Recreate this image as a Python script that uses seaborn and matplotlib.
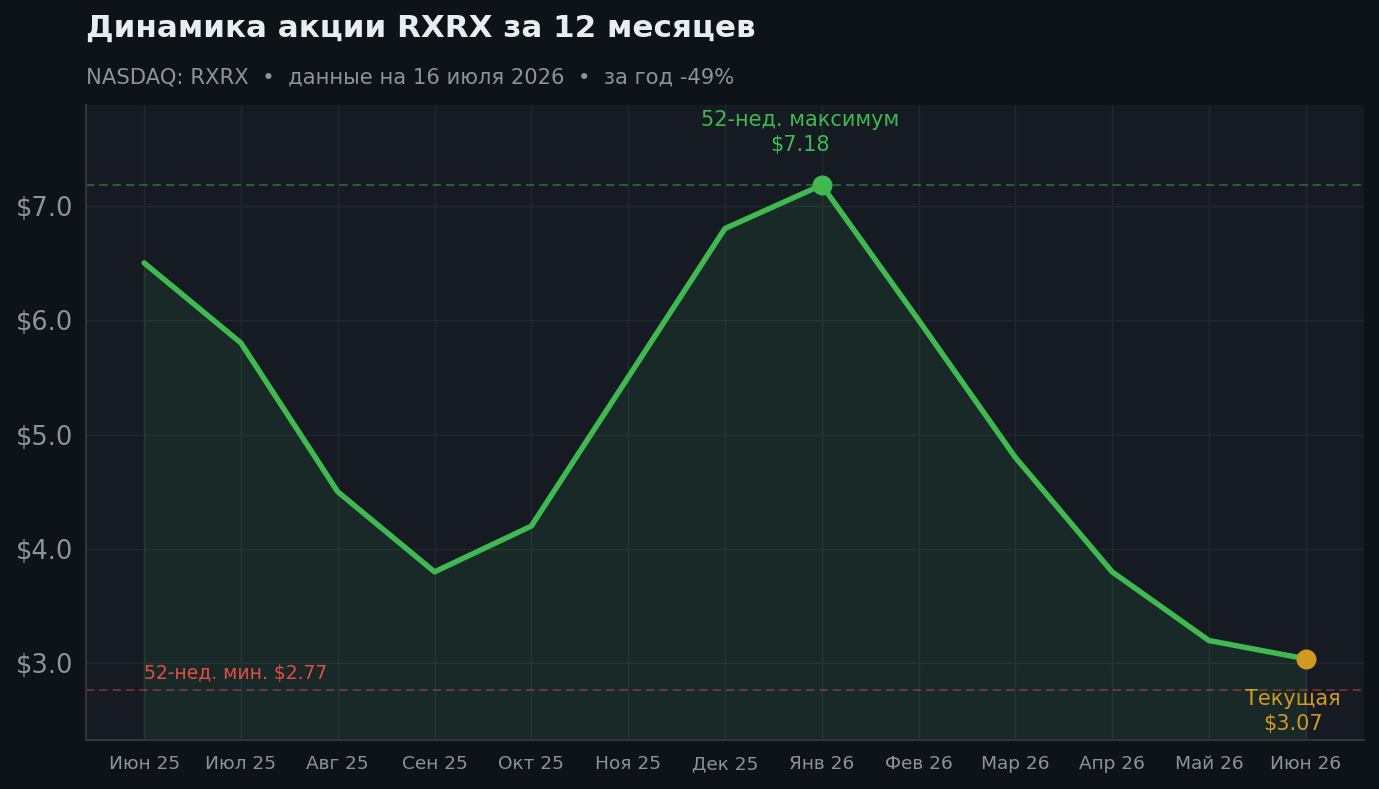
import matplotlib
matplotlib.use("Agg")
import matplotlib.pyplot as plt
import seaborn as sns
import pandas as pd

months = ["Июн 25", "Июл 25", "Авг 25", "Сен 25", "Окт 25", "Ноя 25", "Дек 25",
          "Янв 26", "Фев 26", "Мар 26", "Апр 26", "Май 26", "Июн 26"]
prices = [6.5, 5.8, 4.5, 3.8, 4.2, 5.5, 6.8, 7.18, 6.0, 4.8, 3.8, 3.2, 3.04]
high_52w = 7.18
low_52w = 2.77
current_label = 3.07
yticks = [3.0, 4.0, 5.0, 6.0, 7.0]

BG = "#0e1317"
AX_BG = "#161b23"
GREEN = "#3fb950"
ORANGE = "#d29922"
RED = "#f85149"
GRID = "#242a32"
MUTED = "#8b949e"

sns.set_theme(style="dark")
plt.rcParams["font.family"] = ["DejaVu Sans"]

df = pd.DataFrame({"x": range(len(months)), "price": prices})

fig = plt.figure(figsize=(13.79, 7.89), dpi=100, facecolor=BG)
ax = fig.add_axes([0.0624, 0.062, 0.9266, 0.805])
ax.set_facecolor(AX_BG)

ymin, ymax = 2.33, 7.88
ax.fill_between(df["x"], df["price"], ymin, color=GREEN, alpha=0.09, linewidth=1.2,
                edgecolor=(0.25, 0.72, 0.31, 0.15), zorder=1)
sns.lineplot(data=df, x="x", y="price", ax=ax, color=GREEN, linewidth=3.9, zorder=3)

ax.axhline(high_52w, color=GREEN, linestyle=(0, (5, 3)), linewidth=1.2, alpha=0.5, zorder=2)
ax.axhline(low_52w, color=RED, linestyle=(0, (5, 3)), linewidth=1.2, alpha=0.45, zorder=2)

imax = prices.index(max(prices))
ax.scatter([imax], [prices[imax]], s=180, color=GREEN, zorder=4)
ax.scatter([len(prices) - 1], [prices[-1]], s=180, color=ORANGE, zorder=4)

ax.text(imax - 0.22, high_52w + 0.46, f"52-нед. максимум\n${high_52w:.2f}", color=GREEN,
        fontsize=15, ha="center", va="center", linespacing=1.35)
ax.text(0, low_52w + 0.06, f"52-нед. мин. ${low_52w:.2f}", color=RED, fontsize=13.5,
        ha="left", va="bottom", alpha=0.9)
ax.text(len(prices) - 1 - 0.13, low_52w - 0.19, f"Текущая\n${current_label:.2f}", color=ORANGE,
        fontsize=15, ha="center", va="center", linespacing=1.35)

ax.set_xlim(-0.6, len(months) - 1 + 0.6)
ax.set_ylim(ymin, ymax)
ax.set_xticks(range(len(months)))
ax.set_xticklabels(months)
ax.set_yticks(yticks)
ax.set_yticklabels([f"${v:.1f}" for v in yticks])
ax.tick_params(axis="x", labelsize=13.3, length=5, width=1, pad=6)
ax.tick_params(axis="y", labelsize=18.5, length=5, width=1, pad=4)
ax.tick_params(axis="both", colors="#30363d", labelcolor=MUTED)
ax.set_xlabel("")
ax.set_ylabel("")
ax.grid(True, color=GRID, linewidth=1, alpha=0.9)
ax.set_axisbelow(True)
for side in ["top", "right"]:
    ax.spines[side].set_visible(False)
for side in ["left", "bottom"]:
    ax.spines[side].set_visible(True)
    ax.spines[side].set_color("#30363d")
    ax.spines[side].set_linewidth(1.5)

fig.text(0.0624, 0.964, "Динамика акции RXRX за 12 месяцев", color="#e6edf3",
         fontsize=22.3, fontweight="bold", ha="left", va="center")
fig.text(0.0624, 0.902, "NASDAQ: RXRX  •  данные на 16 июля 2026  •  за год -49%",
         color=MUTED, fontsize=15.2, ha="left", va="center")

fig.savefig("out.png", dpi=100, facecolor=BG)
